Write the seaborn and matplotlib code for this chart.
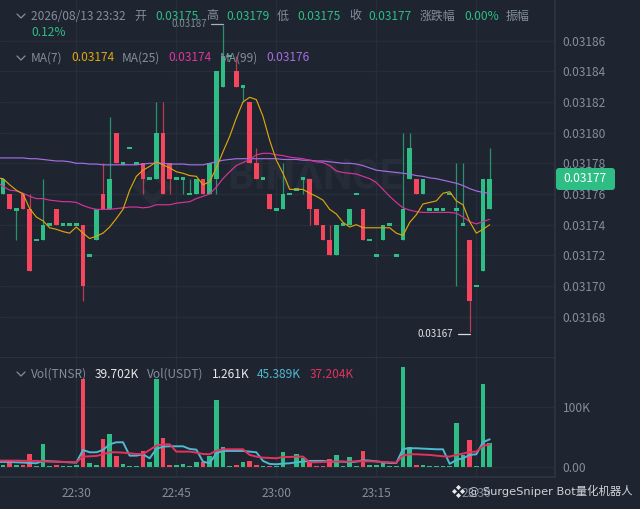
import numpy as np
import pandas as pd
import seaborn as sns
import matplotlib
matplotlib.use("Agg")
import matplotlib.pyplot as plt
from matplotlib.lines import Line2D
from matplotlib.patches import FancyBboxPatch
from matplotlib.transforms import Affine2D

# minutes relative to 22:30
minutes = list(range(-12, 63))
# prices in units of 0.00001
opens = [3177,3176,3176,3175,3176,3175,3173,3173,3174,3175,3174,3174,3174,3174,3172,3173,3176,3175,3180,3178,3179,
         3178,3178,3177,3177,3180,3178,3177,3177,3176,3176,3177,3176,3177,3183,3185,3184,3183,3182,3178,3177,
         3176,3175,3175,3176,3176.3,3177,3177,3175,3174,3173,3172,3174,3174,3176,3175,3173,3172,3173,3174,3172,
         3173,3177,3177,3176,3175,3175,3175,3176,3175,3174,3173,3170,3171,3175]
highs = [3177,3177,3176,3175,3176,3176,3173,3177,3174,3175,3174,3174,3174,3174,3172,3175,3178,3181,3180,3178,3179,
         3178,3178,3177,3182,3182,3178,3177,3177,3177,3177,3177,3178,3184,3187,3185,3185,3183,3182,3179,3177,
         3176,3175,3178,3176,3176.3,3177,3177,3175,3174,3174,3174,3174,3175,3176,3175,3173,3172,3174,3174,3172,
         3180,3180,3177,3177,3175,3175,3175,3176,3178,3178,3173,3170,3177,3179]
lows = [3177,3176,3175,3173,3175,3171,3173,3173,3174,3174,3174,3174,3174,3169,3172,3173,3175,3175,3178,3178,3179,
        3178,3176,3177,3177,3176,3176,3177,3176,3176,3176,3176,3176,3176,3183,3185,3183,3182,3178,3177,3177,
        3175,3175,3175,3176,3176.3,3176,3174,3174,3173,3172,3172,3174,3174,3176,3173,3173,3172,3173,3174,3172,
        3173,3177,3176,3176,3175,3175,3175,3176,3170,3174,3167,3170,3171,3175]
closes = [3177,3177,3175,3175,3175,3171,3173,3174,3174,3174,3174,3174,3174,3170,3172,3175,3175,3177,3178,3178,3179,
          3178,3177,3177,3180,3176,3177,3177,3177,3176,3177,3176,3178,3184,3185,3185,3183,3183,3178,3177,3177,
          3175,3175,3176,3176,3176.3,3177,3175,3174,3173,3172,3174,3174,3175,3176,3173,3173,3172,3174,3174,3172,
          3175,3179,3176,3177,3175,3175,3175,3176,3175,3174,3169,3170,3177,3177]
ma7 = [3177.05,3177.0,3176.6,3176.25,3176.0,3175.05,3174.5,3174.25,3173.8,3173.7,3173.55,3173.45,3173.85,3173.45,3173.1,3173.25,3173.45,
       3173.85,3174.4,3175.0,3176.25,3177.15,3177.55,3177.8,3178.1,3177.9,3177.7,3177.45,3177.35,3177.2,3177.15,3176.6,3176.8,
       3177.7,3178.75,3179.75,3180.95,3182.0,3182.3,3182.15,3181.05,3179.5,3178.2,3177.35,3176.3,3176.3,3176.3,3176.05,3175.85,
       3175.6,3175.0,3174.7,3174.15,3173.85,3174.0,3173.8,3173.8,3173.8,3173.8,3173.8,3173.45,3173.3,3174.15,3174.65,3175.35,
       3175.45,3175.55,3176.05,3176.15,3175.55,3175.3,3174.2,3173.45,3173.7,3174.0]
ma25 = [3176.8,3176.5,3176.25,3176.2,3176.05,3175.85,3175.7,3175.7,3175.6,3175.55,3175.5,3175.5,3175.45,3175.25,3175.1,3175.0,3175.0,
        3175.0,3175.05,3175.1,3175.15,3175.15,3175.1,3175.15,3175.3,3175.3,3175.3,3175.4,3175.45,3175.5,3175.7,3175.85,3176.0,
        3176.45,3177.0,3177.45,3177.85,3178.05,3178.25,3178.55,3178.65,3178.65,3178.55,3178.5,3178.4,3178.35,3178.3,3178.2,3178.1,
        3178.05,3177.85,3177.5,3177.4,3177.35,3177.3,3177.15,3177.0,3176.75,3176.3,3175.85,3175.45,3175.1,3174.95,3174.85,3174.8,
        3174.8,3174.8,3174.8,3174.8,3174.75,3174.5,3174.2,3174.05,3174.2,3174.35]
ma99 = [3178.35,3178.35,3178.35,3178.35,3178.35,3178.3,3178.3,3178.25,3178.2,3178.15,3178.15,3178.1,3178.0,3178.0,3177.95,3177.95,3177.9,
        3177.9,3177.9,3177.9,3177.9,3177.9,3177.95,3178.0,3178.0,3178.0,3177.95,3177.95,3177.95,3177.9,3177.9,3177.9,3178.0,
        3178.1,3178.2,3178.25,3178.3,3178.3,3178.3,3178.3,3178.3,3178.3,3178.3,3178.25,3178.25,3178.25,3178.2,3178.2,3178.15,
        3178.15,3178.1,3178.05,3178.0,3178.0,3177.95,3177.85,3177.7,3177.55,3177.5,3177.45,3177.4,3177.35,3177.3,3177.2,3177.15,
        3177.05,3177.0,3176.9,3176.8,3176.7,3176.55,3176.35,3176.2,3176.1,3176.05]
# volumes in thousands
volume = [3,4,8,4,4,22,2,38,2,4,2,2,3,147,7,4,47,55,18,6,2,2,27,8,148,48,3,4,6,2,8,8,19,113,33,2,4,8,11,4,2,2,2,25,1,22,15,8,2,2,14,
          20,2,17,2,27,3,3,8,2,2,167,33,3,3,2,2,2,2,73,20,45,2,139,40]
vol_ma_a = [8.9,8.9,8.9,8.3,7.8,7.2,6.7,10.6,10,9.4,8.9,8.3,7.8,28.9,25,25,28.9,38.3,41.7,41.7,19.4,19.4,21.7,15,30.6,34.4,35,35,35,30.6,29.4,
            9.4,6.7,23.3,27.2,27.2,27.2,27.2,26.1,25,10.6,5.6,5,6.1,6.7,8.3,9.4,10.6,10.6,10.6,9.4,9.4,9.4,8.3,9.4,11.7,11.1,10,8.3,7.2,7.2,
            30.6,31.7,31.7,31.1,30.6,30,30,5.6,12.2,15,20.6,21.7,41.7,46.7]
vol_ma_b = [11.1,11.1,11.1,11.1,10.8,10.6,10.6,10,9.4,9.4,8.9,8.9,8.3,17.8,18.3,18.9,21.7,25,25,24.4,23.3,22.2,22.2,28.9,36.1,38.3,38.3,26.1,26.1,26.1,24.4,
            22.2,21.7,27.8,30,30,30,30,20.6,17.8,16.1,15.6,15,17.2,17.2,17.8,17.8,8.3,8.3,8.9,9.4,9.4,9.4,9.4,10,10,10,9.4,8.9,8.3,7.8,
            19.4,21.7,21.7,21.1,20.6,19.4,18.3,17.8,20.6,22.8,25.6,26.1,35.6,38.3]
price_ticks = [3168,3170,3172,3174,3176,3178,3180,3182,3184,3186]
time_ticks = [0,15,30,45,60]
time_labels = ["22:30","22:45","23:00","23:15","23:30"]

BG = "#1e2530"
GRID = "#272e39"
SEP = "#2e3540"
GREEN = "#2ebd85"
RED = "#f6465d"
GRAY = "#848e9c"
W, H = 640, 509

sns.set_theme(style="dark", rc={"axes.facecolor": BG, "figure.facecolor": BG})
FONT = ["Noto Sans CJK SC", "DejaVu Sans"]
plt.rcParams["font.family"] = FONT

fig = plt.figure(figsize=(W / 100, H / 100), dpi=100, facecolor=BG)
ax = fig.add_axes([0, 1 - 358 / H, 555 / W, 358 / H])
axv = fig.add_axes([0, 1 - 477 / H, 555 / W, 119 / H])
to_px = Affine2D().scale(1, -1).translate(0, H)  # pixels from top-left


def T(x, y, s, c=GRAY, size=8.6, family=FONT, **kw):
    fig.text(x / W, 1 - y / H, s, color=c, fontsize=size, va="center", family=family, **kw)


for a in (ax, axv):
    a.set_facecolor(BG)
    a.grid(True, color=GRID, lw=0.9, zorder=0)
    a.set_axisbelow(True)
    for s in a.spines.values():
        s.set_visible(False)
    for k in ("bottom", "right"):
        a.spines[k].set_visible(True)
        a.spines[k].set_color(SEP)
        a.spines[k].set_linewidth(1.2)
    a.yaxis.tick_right()

m = np.array(minutes, float)
o, h_, l_, c = map(lambda v: np.array(v, float), (opens, highs, lows, closes))

# watermark
ax.text(35.8, 3177.05, "BINANCE", color="#262d38", fontsize=30, fontweight="bold",
        family="Roboto", ha="center", va="center", zorder=1)
ax.plot([11.4], [3176.5], marker="D", ms=15, mfc="none", mec="#262d38", mew=5, zorder=1)

colors = [RED if cl < op else GREEN for op, cl in zip(o, c)]
ax.vlines(m, l_, h_, colors=colors, lw=0.9, alpha=0.72, zorder=2)
bottom = np.minimum(o, c)
height = np.abs(c - o)
doji = height == 0
bottom = np.where(doji, c - 0.08, bottom)
height = np.where(doji, 0.16, height)
ax.bar(m, height, bottom=bottom, width=0.72, color=colors, edgecolor="none", linewidth=0, zorder=3)

frame = pd.DataFrame({"m": minutes, "ma7": ma7, "ma25": ma25, "ma99": ma99,
                      "vol": volume, "va": vol_ma_a, "vb": vol_ma_b,
                      "dir": ["down" if cl < op else "up" for op, cl in zip(o, c)]})
sns.lineplot(data=frame, x="m", y="ma99", ax=ax, color="#a56de2", lw=0.85, zorder=4)
sns.lineplot(data=frame, x="m", y="ma25", ax=ax, color="#d6339b", lw=0.85, zorder=4)
sns.lineplot(data=frame, x="m", y="ma7", ax=ax, color="#dba40e", lw=0.85, zorder=5)

ax.set_xlim(-11.45, 71.8)
ax.set_ylim(3186 - 317.5 / 15.35, 3186 + 40.5 / 15.35)
ax.set_yticks(price_ticks)
ax.set_yticklabels([f"{v / 1e5:.5f}" for v in price_ticks])
ax.set_xticks(time_ticks)
ax.set_xticklabels([])
ax.set_xlabel("")
ax.set_ylabel("")
ax.tick_params(axis="y", length=0, pad=5.6, labelsize=8.6, labelcolor=GRAY, labelright=True, labelleft=False)
ax.tick_params(axis="x", length=0)

sns.barplot(data=frame, x="m", y="vol", hue="dir", palette={"up": GREEN, "down": RED}, hue_order=["up", "down"],
            dodge=False, native_scale=True, width=0.72, saturation=1, legend=False, ax=axv, zorder=3,
            edgecolor="none", linewidth=0)
sns.lineplot(data=frame, x="m", y="va", ax=axv, color="#4fb8d3", lw=1.4, zorder=4)
sns.lineplot(data=frame, x="m", y="vb", ax=axv, color="#e2335e", lw=1.4, zorder=5)
axv.set_xlim(-11.45, 71.8)
axv.set_ylim(-16.2, 182.2)
axv.set_yticks([0, 100])
axv.set_yticklabels(["0.00", "100K"])
axv.set_xticks(time_ticks)
axv.set_xticklabels(time_labels)
axv.set_xlabel("")
axv.set_ylabel("")
axv.tick_params(axis="y", length=0, pad=5.6, labelsize=8.6, labelcolor=GRAY, labelright=True, labelleft=False)
axv.tick_params(axis="x", length=0, pad=7.5, labelsize=8.6, labelcolor=GRAY)

# header rows
for x, s, col in [(31, "2026/08/13 23:32", GRAY), (134, "开", GRAY), (155, "0.03175", GREEN), (206, "高", GRAY),
                  (226, "0.03179", GREEN), (277, "低", GRAY), (297, "0.03175", GREEN), (349, "收", GRAY),
                  (368, "0.03177", GREEN), (420, "涨跌幅", GRAY), (464, "0.00%", GREEN), (506, "振幅", GRAY)]:
    T(x, 16, s, col)
T(31, 32, "0.12%", GREEN)
for x, s, col in [(31, "MA(7)", GRAY), (71, "0.03174", "#e0a90f"), (122, "MA(25)", GRAY), (168, "0.03174", "#e0359f"),
                  (220, "MA(99)", GRAY), (266, "0.03176", "#a56de2")]:
    T(x, 58, s, col)
for x, s, col in [(31, "Vol(TNSR)", GRAY), (95, "39.702K", "#e6e8ea"), (147, "Vol(USDT)", GRAY),
                  (212, "1.261K", "#e6e8ea"), (257, "45.389K", "#4fb8d3"), (310, "37.204K", "#e2335e")]:
    T(x, 374, s, col)
for yc in (16, 58, 374):
    fig.add_artist(Line2D([17, 21, 25], [yc - 2, yc + 2, yc - 2], color=GRAY, lw=0.9, transform=to_px))

# high and low markers
T(172, 24, "0.03187", "#7f8895", 7.0)
fig.add_artist(Line2D([211, 223], [24, 24], color="#aab0b8", lw=0.9, transform=to_px))
T(418, 334, "0.03167", "#e0e3e6", 7.0)
fig.add_artist(Line2D([458, 470], [334, 334], color="#d8dbdf", lw=0.9, transform=to_px))

# last price tag
tag = FancyBboxPatch((559, 171), 53, 16, boxstyle="round,pad=3", fc=GREEN, ec="none", transform=to_px, zorder=5)
fig.add_artist(tag)
fig.text(585.5 / W, 1 - 178.5 / H, "0.03177", color="white", fontsize=8.6, ha="center", va="center", family=FONT, zorder=6)

# source mark
for dx, dy in [(0, -4), (0, 4), (-4, 0), (4, 0)]:
    fig.add_artist(Line2D([458 + dx], [491 + dy], marker="D", ms=2.6, mfc="#e6e8ea", mec="none", transform=to_px, zorder=6))
T(468, 491, "@ SurgeSniper Bot量化机器人", "#cfd3d8", 8.2, family=["DejaVu Sans", "Noto Sans CJK SC"], zorder=6)

fig.savefig("out.png", dpi=100, facecolor=BG)
